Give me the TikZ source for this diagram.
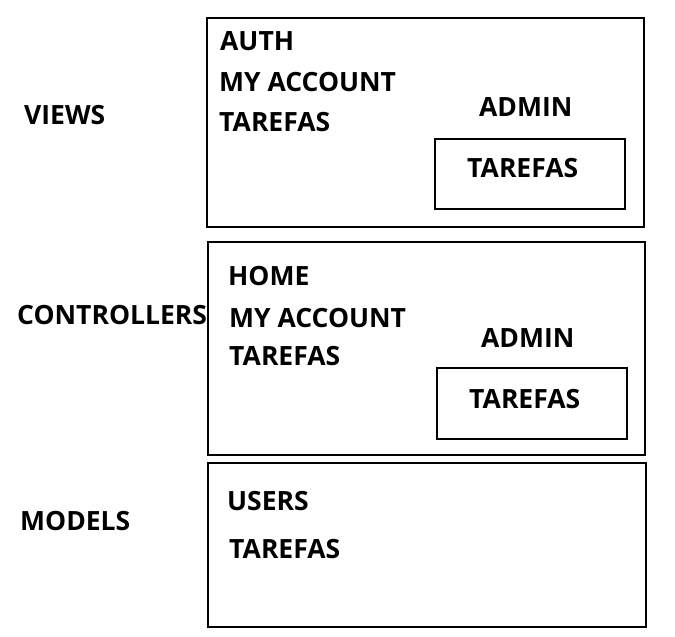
\documentclass[tikz,border=0pt]{standalone}
\usepackage{fontspec}
\setmainfont{Open Sans}
\begin{document}
\begin{tikzpicture}[x=1pt,y=-1pt,
  lbl/.style={anchor=base west,inner sep=0pt,font=\fontsize{26.5}{31}\selectfont\bfseries},
  outerbox/.style={draw,line width=2pt},
  innerbox/.style={draw,line width=1.5pt}]
\useasboundingbox (0,0) rectangle (675,637);
\draw[outerbox] (207,18) rectangle (644,227);
\draw[innerbox] (435,139) rectangle (625,209);
\draw[outerbox] (208,242) rectangle (645,455);
\draw[innerbox] (437,368) rectangle (627,439);
\draw[outerbox] (208,463) rectangle (646,627);
\node[lbl] (views) at (24,124) {VIEWS};
\node[lbl] (controllers) at (17,324) {CONTROLLERS};
\node[lbl] (models) at (20,530) {MODELS};
\node[lbl] (auth) at (220,50) {AUTH};
\node[lbl] (myacc1) at (219,91) {MY ACCOUNT};
\node[lbl] (tar1) at (219,131) {TAREFAS};
\node[lbl] (admin1) at (479,116) {ADMIN};
\node[lbl] (tar1a) at (467,177) {TAREFAS};
\node[lbl] (home) at (228,285) {HOME};
\node[lbl] (myacc2) at (229,327) {MY ACCOUNT};
\node[lbl] (tar2) at (229,365) {TAREFAS};
\node[lbl] (admin2) at (481,347) {ADMIN};
\node[lbl] (tar2a) at (469,408) {TAREFAS};
\node[lbl] (users) at (227,510) {USERS};
\node[lbl] (tar3) at (229,558) {TAREFAS};
\end{tikzpicture}
\end{document}
